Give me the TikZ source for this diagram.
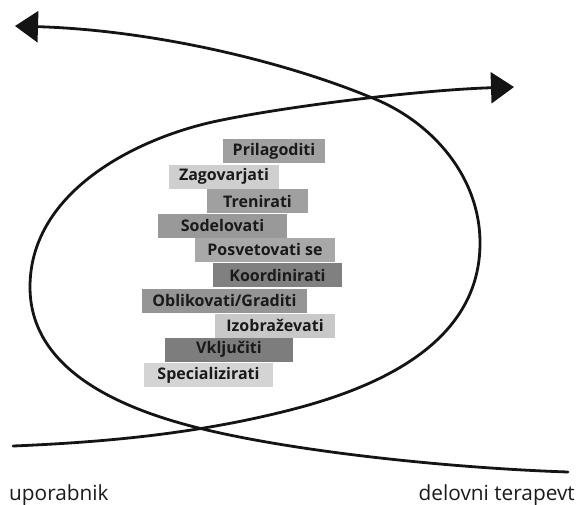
\documentclass[tikz,border=0pt]{standalone}
\usepackage{fontspec}
\setmainfont{Open Sans}
\usetikzlibrary{arrows.meta}
\definecolor{gA}{HTML}{A0A0A0}
\definecolor{gB}{HTML}{CFCFCF}
\definecolor{gC}{HTML}{999999}
\definecolor{gD}{HTML}{A8A8A8}
\definecolor{gE}{HTML}{808080}
\definecolor{gF}{HTML}{959595}
\definecolor{gG}{HTML}{C8C8C8}
\definecolor{gH}{HTML}{7D7D7D}
\definecolor{gI}{HTML}{D4D4D4}
\definecolor{txt}{HTML}{1A1A1A}
\begin{document}
\begin{tikzpicture}[x=1pt,y=-1pt,
  curve/.style={line width=2.8pt, line cap=round, black!92},
  tip/.style={-{Triangle[length=23pt,width=31pt]}},
  lab/.style={inner sep=0pt, minimum height=24pt, text=txt,
    font=\fontsize{16}{16}\selectfont\bfseries, anchor=center},
  side/.style={inner sep=0pt, text=txt, font=\fontsize{20.8}{21}\selectfont}]
\path[use as bounding box] (0,0) rectangle (577,504);
% labels
\node[lab, fill=gA, minimum width=102pt] (p1) at (274,151) {Prilagoditi};
\node[lab, fill=gB, minimum width=110pt] (p2) at (224,176.5) {Zagovarjati};
\node[lab, fill=gA, minimum width=101pt] (p3) at (257.5,201) {Trenirati};
\node[lab, fill=gC, minimum width=129pt] (p4) at (222.5,225.5) {Sodelovati};
\node[lab, fill=gD, minimum width=140pt] (p5) at (265,249.5) {Posvetovati se};
\node[lab, fill=gE, minimum width=129pt] (p6) at (277.5,275) {Koordinirati};
\node[lab, fill=gF, minimum width=165pt] (p7) at (224.5,300.5) {Oblikovati/Graditi};
\node[lab, fill=gG, minimum width=120pt] (p8) at (275,325.5) {Izobraževati};
\node[lab, fill=gH, minimum width=128pt] (p9) at (229,349.5) {Vključiti};
\node[lab, fill=gI, minimum width=129pt] (p10) at (208.5,375) {Specializirati};
% curve of the user (from bottom left, round the right, to the left arrow)
\draw[curve, tip] (13,446) .. controls (110,442) and (200,433) .. (290,410)
  .. controls (420,377) and (480,320) .. (480,243)
  .. controls (480,175) and (430,120) .. (370,97)
  .. controls (280,60) and (150,30) .. (15,26);
% curve of the therapist (from bottom right, round the left, to the right arrow)
\draw[curve, tip] (568,472) .. controls (450,468) and (300,452) .. (207,430)
  .. controls (100,405) and (30,360) .. (30,287)
  .. controls (30,190) and (140,136) .. (222,120)
  .. controls (290,106) and (420,90) .. (514,87);
% bottom texts
\node[side, anchor=base west] (u) at (9,500) {uporabnik};
\node[side, anchor=base east] (d) at (575,500) {delovni terapevt};
\end{tikzpicture}
\end{document}
